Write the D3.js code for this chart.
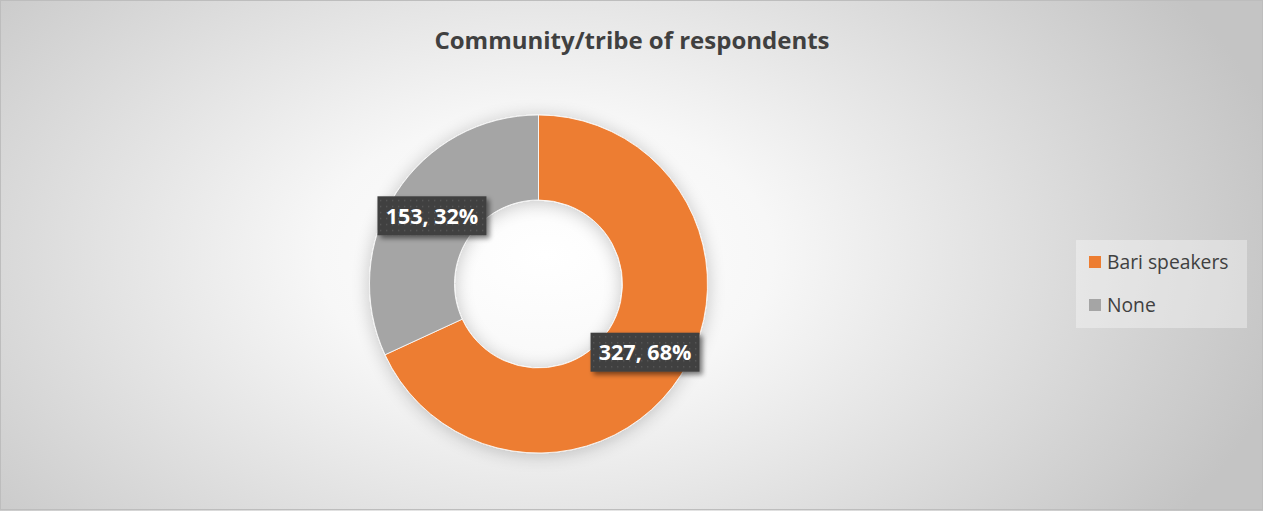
<!DOCTYPE html>
<html>
<head>
<meta charset="utf-8">
<script src="https://cdn.jsdelivr.net/npm/d3@7"></script>
<style>
  html, body { margin: 0; padding: 0; background: #fff; }
  svg { display: block; }
</style>
</head>
<body>
<svg id="chart" width="1263" height="511"></svg>
<script>
// Respondents by community/tribe
const categories = ["Bari speakers", "None"];
const counts = [327, 153];
const percents = ["68%", "32%"];
const colors = ["#ED7D31", "#A5A5A5"];
const title = "Community/tribe of respondents";

const W = 1263, H = 511;
const svg = d3.select("#chart");
const defs = svg.append("defs");

// Background: radial fill, white in the middle fading to grey at the corners
const bg = defs.append("radialGradient").attr("id", "bgGrad")
  .attr("gradientUnits", "userSpaceOnUse")
  .attr("cx", 545).attr("cy", 255).attr("r", 760)
  .attr("gradientTransform", "translate(545,255) scale(1,0.62) translate(-545,-255)");
bg.append("stop").attr("offset", "0").attr("stop-color", "#ffffff");
bg.append("stop").attr("offset", "0.3").attr("stop-color", "#f7f7f7");
bg.append("stop").attr("offset", "1").attr("stop-color", "#c4c4c4");

// Soft shadow used by the ring and the data label boxes
const sh = defs.append("filter").attr("id", "ringShadow")
  .attr("x", "-30%").attr("y", "-30%").attr("width", "160%").attr("height", "160%");
sh.append("feGaussianBlur").attr("in", "SourceAlpha").attr("stdDeviation", 9).attr("result", "b");
sh.append("feOffset").attr("in", "b").attr("dx", 0).attr("dy", 2).attr("result", "o");
sh.append("feComponentTransfer").attr("in", "o").attr("result", "s")
  .append("feFuncA").attr("type", "linear").attr("slope", 0.22);
const shm = sh.append("feMerge");
shm.append("feMergeNode").attr("in", "s");
shm.append("feMergeNode").attr("in", "SourceGraphic");

const lsh = defs.append("filter").attr("id", "labelShadow")
  .attr("x", "-20%").attr("y", "-30%").attr("width", "150%").attr("height", "180%");
lsh.append("feGaussianBlur").attr("in", "SourceAlpha").attr("stdDeviation", 2.5).attr("result", "b");
lsh.append("feOffset").attr("in", "b").attr("dx", 3).attr("dy", 3).attr("result", "o");
lsh.append("feComponentTransfer").attr("in", "o").attr("result", "s")
  .append("feFuncA").attr("type", "linear").attr("slope", 0.5);
const lshm = lsh.append("feMerge");
lshm.append("feMergeNode").attr("in", "s");
lshm.append("feMergeNode").attr("in", "SourceGraphic");

// Dotted texture on the label boxes
const pat = defs.append("pattern").attr("id", "dots")
  .attr("patternUnits", "userSpaceOnUse").attr("width", 6).attr("height", 6);
pat.append("rect").attr("width", 6).attr("height", 6).attr("fill", "#404040");
pat.append("rect").attr("x", 2).attr("y", 2).attr("width", 1.3).attr("height", 1.3).attr("fill", "#5a5a5a");

svg.append("rect").attr("x", 0).attr("y", 0).attr("width", W).attr("height", H)
  .attr("fill", "url(#bgGrad)");
svg.append("rect").attr("x", 0.5).attr("y", 0.5).attr("width", W - 1).attr("height", H - 2)
  .attr("fill", "none").attr("stroke", "#bdbdbd").attr("stroke-width", 1);

const font = "'Segoe UI', 'Open Sans', 'Noto Sans', sans-serif";

svg.append("text")
  .attr("x", 632).attr("y", 49)
  .attr("text-anchor", "middle")
  .attr("font-family", font).attr("font-weight", 700).attr("font-size", 24)
  .attr("fill", "#404040")
  .text(title);

// Donut
const cx = 538.5, cy = 284, rOuter = 169, rInner = 84;
const data = categories.map((c, i) => ({ name: c, value: counts[i], pct: percents[i], color: colors[i] }));
const pie = d3.pie().value(d => d.value).sort(null);
const arcs = pie(data);
const arc = d3.arc().innerRadius(rInner).outerRadius(rOuter);
const labelArc = d3.arc().innerRadius((rInner + rOuter) / 2).outerRadius((rInner + rOuter) / 2);

const g = svg.append("g").attr("transform", `translate(${cx},${cy})`);
g.append("g").attr("filter", "url(#ringShadow)")
  .selectAll("path").data(arcs).join("path")
  .attr("d", arc)
  .attr("fill", d => d.data.color)
  .attr("stroke", "#ffffff").attr("stroke-width", 0.8);

// Data labels: "value, percent" in dark boxes centred on each slice
const labels = g.selectAll("g.lbl").data(arcs).join("g").attr("class", "lbl")
  .attr("transform", d => `translate(${labelArc.centroid(d)})`);
labels.each(function(d) {
  const sel = d3.select(this);
  const t = sel.append("text")
    .attr("text-anchor", "middle").attr("dy", "0.36em")
    .attr("font-family", font).attr("font-weight", 700).attr("font-size", 21.5)
    .attr("fill", "#ffffff")
    .text(`${d.data.value}, ${d.data.pct}`);
  const bb = t.node().getBBox();
  const w = Math.max(bb.width + 16, 109), h = 39;
  sel.insert("rect", "text")
    .attr("x", -w / 2).attr("y", -h / 2).attr("width", w).attr("height", h)
    .attr("fill", "url(#dots)")
    .attr("filter", "url(#labelShadow)");
});

// Legend
const lg = svg.append("g").attr("transform", "translate(1076,240)");
lg.append("rect").attr("width", 171).attr("height", 88)
  .attr("fill", "#ffffff").attr("fill-opacity", 0.35);
const items = lg.selectAll("g.item").data(data).join("g").attr("class", "item")
  .attr("transform", (d, i) => `translate(13,${22 + i * 43})`);
items.append("rect").attr("x", 0).attr("y", -6).attr("width", 12).attr("height", 12)
  .attr("fill", d => d.color);
items.append("text").attr("x", 18).attr("y", 0).attr("dy", "0.35em")
  .attr("font-family", font).attr("font-size", 19.3).attr("fill", "#404040")
  .text(d => d.name);
</script>
</body>
</html>
